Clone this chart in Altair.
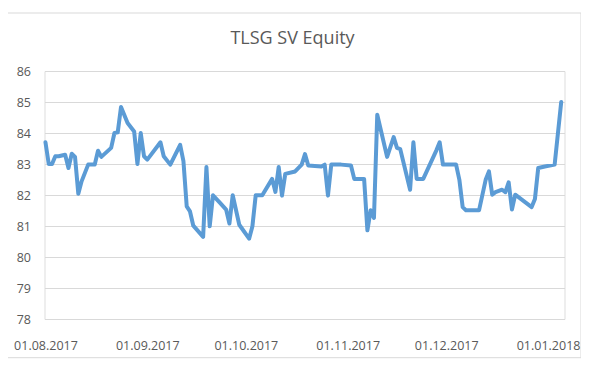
import altair as alt
import pandas as pd

dates = [
    "2017-08-01", "2017-08-02", "2017-08-03", "2017-08-04", "2017-08-05", "2017-08-07",
    "2017-08-08", "2017-08-09", "2017-08-10", "2017-08-11", "2017-08-12", "2017-08-14",
    "2017-08-16", "2017-08-17", "2017-08-18", "2017-08-21", "2017-08-22", "2017-08-23",
    "2017-08-24", "2017-08-26", "2017-08-28", "2017-08-29", "2017-08-30", "2017-08-31",
    "2017-09-01", "2017-09-05", "2017-09-06", "2017-09-08", "2017-09-11", "2017-09-12",
    "2017-09-13", "2017-09-14", "2017-09-15", "2017-09-18", "2017-09-19", "2017-09-20",
    "2017-09-21", "2017-09-23", "2017-09-25", "2017-09-26", "2017-09-27", "2017-09-29",
    "2017-10-02", "2017-10-03", "2017-10-04", "2017-10-06", "2017-10-09", "2017-10-10",
    "2017-10-11", "2017-10-12", "2017-10-13", "2017-10-16", "2017-10-18", "2017-10-19",
    "2017-10-20", "2017-10-24", "2017-10-25", "2017-10-26", "2017-10-27", "2017-10-30",
    "2017-11-02", "2017-11-03", "2017-11-06", "2017-11-07", "2017-11-08", "2017-11-09",
    "2017-11-10", "2017-11-13", "2017-11-15", "2017-11-16", "2017-11-17", "2017-11-20",
    "2017-11-21", "2017-11-22", "2017-11-24", "2017-11-28", "2017-11-29", "2017-11-30",
    "2017-12-04", "2017-12-05", "2017-12-06", "2017-12-07", "2017-12-11", "2017-12-13",
    "2017-12-14", "2017-12-15", "2017-12-16", "2017-12-18", "2017-12-19", "2017-12-20",
    "2017-12-21", "2017-12-22", "2017-12-27", "2017-12-28", "2017-12-29", "2017-12-31",
    "2018-01-03", "2018-01-05",
]

prices = [
    83.70, 83.00, 83.00, 83.25, 83.25, 83.30,
    82.87, 83.33, 83.23, 82.04, 82.44, 82.98,
    82.98, 83.43, 83.23, 83.52, 84.00, 84.02,
    84.84, 84.32, 84.05, 83.00, 84.00, 83.25,
    83.14, 83.70, 83.25, 82.98, 83.62, 83.09,
    81.63, 81.47, 81.01, 80.65, 82.90, 80.99,
    81.99, 81.76, 81.53, 81.08, 81.99, 81.04,
    80.59, 80.99, 81.99, 81.99, 82.52, 82.10,
    82.90, 81.98, 82.68, 82.76, 82.98, 83.32,
    82.95, 82.92, 82.98, 81.98, 82.98, 82.98,
    82.95, 82.52, 82.52, 80.86, 81.51, 81.26,
    84.59, 83.23, 83.87, 83.52, 83.48, 82.17,
    83.70, 82.52, 82.52, 83.44, 83.70, 82.98,
    82.98, 82.49, 81.61, 81.51, 81.51, 82.49,
    82.76, 82.01, 82.09, 82.17, 82.09, 82.41,
    81.53, 82.01, 81.61, 81.87, 82.87, 82.92,
    82.98, 85.00,
]

title_text = "TLSG SV Equity"
y_ticks = [78, 79, 80, 81, 82, 83, 84, 85, 86]
month_ticks = [(2017, 8), (2017, 9), (2017, 10), (2017, 11), (2017, 12), (2018, 1)]

df = pd.DataFrame({"date": dates, "price": prices})

font = "Open Sans"
text_color = "#595959"
grid_color = "#D9D9D9"

x_values = [alt.DateTime(year=y, month=m, date=1, utc=True) for (y, m) in month_ticks]

x_enc = alt.X(
    "date:T",
    scale=alt.Scale(
        type="utc",
        domain=[
            alt.DateTime(year=2017, month=7, date=31, hours=17, utc=True),
            alt.DateTime(year=2018, month=1, date=6, hours=0, utc=True),
        ],
    ),
    axis=alt.Axis(
        values=x_values,
        labelExpr="utcFormat(datum.value, '%d.%m.%Y')",
        title=None,
        grid=False,
        domain=False,
        ticks=False,
        labelColor=text_color,
        labelFont=font,
        labelFontSize=12.5,
        labelPadding=20,
        labelFlush=False,
        labelOverlap=False,
        labelBound=False,
    ),
)

y_enc = alt.Y(
    "price:Q",
    scale=alt.Scale(domain=[78, 86], nice=False, zero=False),
    axis=alt.Axis(
        values=y_ticks,
        title=None,
        grid=True,
        gridColor=grid_color,
        gridWidth=1,
        domain=False,
        ticks=False,
        labelColor=text_color,
        labelFont=font,
        labelFontSize=12.5,
        labelPadding=14,
    ),
)

border = alt.Chart(pd.DataFrame({"k": [0]})).mark_rect(
    fill=None, stroke=grid_color, strokeWidth=1
).encode(
    x=alt.value(-37.8), x2=alt.value(536.5), y=alt.value(-58), y2=alt.value(286.7)
)

title = alt.Chart(pd.DataFrame({"t": [title_text]})).mark_text(
    font=font, fontSize=18, color=text_color, align="center", baseline="alphabetic"
).encode(
    text="t:N", x=alt.value(248), y=alt.value(-27)
)

line = alt.Chart(df).mark_line(
    color="#5B9BD5", strokeWidth=4, strokeJoin="round", strokeCap="round"
).encode(x=x_enc, y=y_enc)

chart = alt.layer(border, title, line).properties(
    width=520,
    height=248,
    autosize=alt.AutoSizeParams(type="none"),
    padding={"left": 36.5, "top": 63, "right": 16, "bottom": 40},
).configure_view(stroke=None).configure(background="white")

chart.save("out.html", embed_options={"renderer": "svg", "actions": False})
